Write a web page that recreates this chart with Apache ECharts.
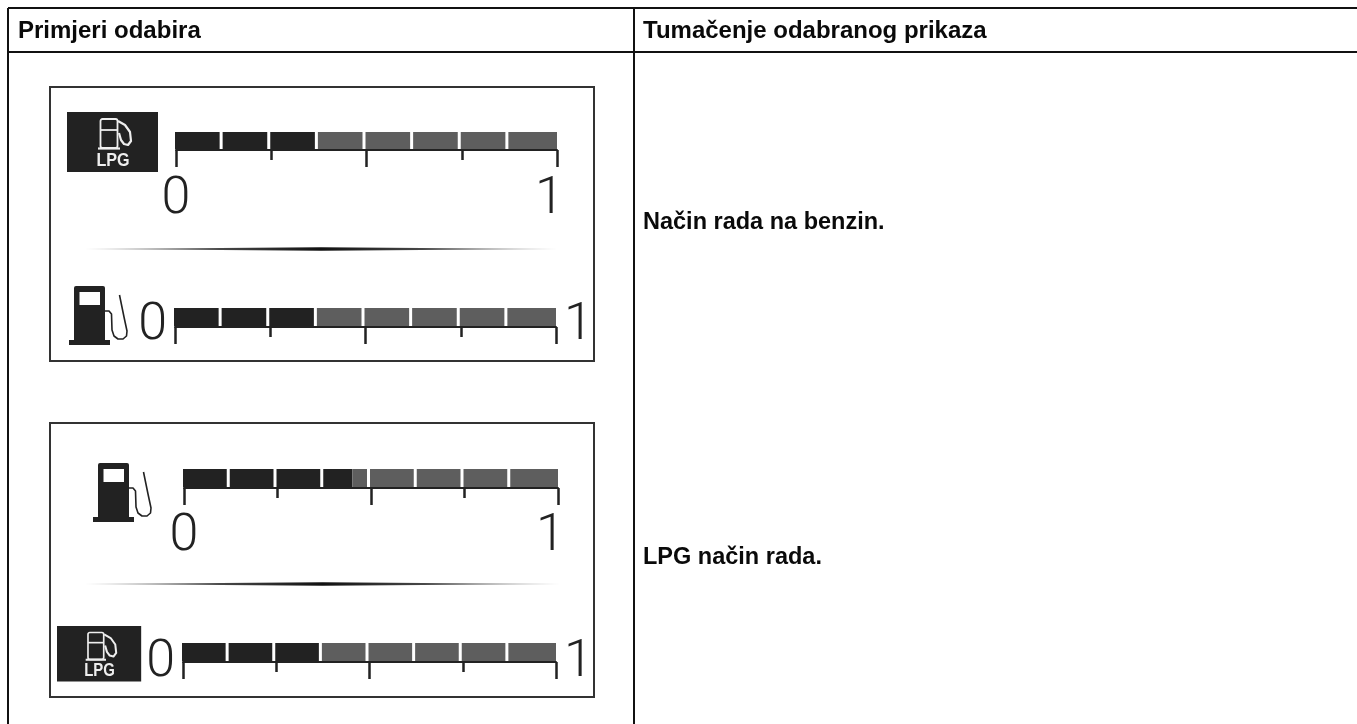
<!DOCTYPE html>
<html>
<head>
<meta charset="utf-8">
<style>html,body{margin:0;padding:0;background:#fff}#c{width:1357px;height:724px}</style>
<script src="https://cdn.jsdelivr.net/npm/echarts@6/dist/echarts.min.js"></script>
</head>
<body>
<div id="c"></div>
<script>
var headers = ['Primjeri odabira', 'Tumačenje odabranog prikaza'];
var rowTexts = ['Način rada na benzin.', 'LPG način rada.'];
var tickLabels = {0: '0', 1: '1'};
var cellStarts = [0, 0.125, 0.25, 0.375, 0.5, 0.625, 0.75, 0.875];
var cellEnds = [0.125, 0.25, 0.375, 0.5, 0.625, 0.75, 0.875, 1];
var levels = [0.375, 0.375, 0.45, 0.375];
var DARK = '#222222', GREY = '#5e5e5e', LINE = '#111111', FRAME = '#333333';

var layouts = [
  {left: 176, right: 557, top: 132, height: 18, below: true, margin: 24},
  {left: 175, right: 556, top: 308, height: 19, below: false, margin: -27.5},
  {left: 184, right: 558, top: 469, height: 19, below: true, margin: 22.5},
  {left: 183, right: 556, top: 643, height: 19, below: false, margin: -25}
];

var chart = echarts.init(document.getElementById('c'), null, {renderer: 'canvas'});
var grids = [], xAxes = [], yAxes = [], series = [];

layouts.forEach(function (l, i) {
  grids.push({left: l.left, top: l.top, width: l.right - l.left, height: l.height});
  xAxes.push({
    type: 'value', gridIndex: i, min: 0, max: 1, interval: 0.5,
    axisLine: {show: true, onZero: false, lineStyle: {color: DARK, width: 2}},
    axisTick: {show: true, length: 17, lineStyle: {color: DARK, width: 2.5}},
    minorTick: {show: true, splitNumber: 2, length: 10, lineStyle: {color: DARK, width: 2.5}},
    splitLine: {show: false},
    axisLabel: {
      show: true,
      fontFamily: 'Roboto',
      fontWeight: 300,
      fontSize: 52,
      color: '#222',
      hideOverlap: false,
      showMinLabel: true,
      showMaxLabel: true,
      margin: l.margin,
      alignMinLabel: l.below ? 'center' : 'right',
      alignMaxLabel: l.below ? 'center' : 'left',
      verticalAlign: 'top',
      padding: l.below ? 0 : [0, 8, 0, 8],
      rich: {one: {fontFamily: 'Roboto', fontWeight: 300, fontSize: 52, color: '#222', padding: [0, 15, 0, 0]}},
      formatter: function (v) {
        var t = tickLabels[v] || '';
        return (l.below && t === '1') ? '{one|' + t + '}' : t;
      }
    }
  });
  yAxes.push({type: 'value', gridIndex: i, min: 0, max: 1, show: false});
  var level = levels[i];
  series.push({
    type: 'custom',
    coordinateSystem: 'cartesian2d',
    xAxisIndex: i,
    yAxisIndex: i,
    clip: false,
    silent: true,
    data: cellStarts.map(function (s, k) { return [s, cellEnds[k], level]; }),
    encode: {x: [0, 1], y: -1},
    renderItem: function (params, api) {
      var a = api.value(0), b = api.value(1), lv = api.value(2);
      var p0 = api.coord([a, 1]), p1 = api.coord([b, 0]);
      var pm = api.coord([lv, 0]);
      var x0 = p0[0] - 1, x1 = b < 1 ? p1[0] - 4 : p1[0];
      var yT = p0[1], yB = p1[1] - 1;
      var kids = [];
      function rect(xa, xb, col) {
        kids.push({type: 'rect', shape: {x: xa, y: yT, width: xb - xa, height: yB - yT}, style: {fill: col}});
      }
      if (b <= lv + 1e-9) rect(x0, x1, DARK);
      else if (a >= lv) rect(x0, x1, GREY);
      else { rect(x0, pm[0], DARK); rect(pm[0], x1, GREY); }
      return {type: 'group', children: kids};
    }
  });
});

function pumpIcon(dx, dy) {
  return {
    type: 'group', x: dx, y: dy, silent: true,
    children: [
      {type: 'rect', shape: {x: 69, y: 340, width: 41, height: 5}, style: {fill: DARK}},
      {type: 'rect', shape: {x: 74, y: 286, width: 31, height: 55, r: [2, 2, 0, 0]}, style: {fill: DARK}},
      {type: 'rect', shape: {x: 79.5, y: 292, width: 20.5, height: 13}, style: {fill: '#fff'}},
      {type: 'polyline', shape: {points: [[105, 311], [109, 311], [111.5, 314], [112, 330], [114, 336], [118, 339], [123, 339], [126.5, 336], [127, 331], [124, 317], [119.5, 295]]},
        style: {fill: 'none', stroke: DARK, lineWidth: 1.6, lineJoin: 'round'}}
    ]
  };
}

function lpgIcon(x, y, s) {
  return {
    type: 'group', x: x, y: y, scaleX: s, scaleY: s, silent: true,
    children: [
      {type: 'rect', shape: {x: 0, y: 0, width: 91, height: 60}, style: {fill: DARK}},
      {type: 'rect', shape: {x: 33.5, y: 7, width: 17, height: 29, r: 2}, style: {fill: 'none', stroke: '#eee', lineWidth: 1.8}},
      {type: 'line', shape: {x1: 33.5, y1: 18, x2: 50.5, y2: 18}, style: {stroke: '#eee', lineWidth: 1.8}},
      {type: 'line', shape: {x1: 31, y1: 36.5, x2: 53, y2: 36.5}, style: {stroke: '#eee', lineWidth: 2.2}},
      {type: 'polyline', shape: {points: [[51, 9], [58, 13], [63, 20], [64, 29], [61, 33], [57, 32], [54, 28], [52, 21]]},
        style: {fill: 'none', stroke: '#eee', lineWidth: 2.2, lineJoin: 'round'}},
      {type: 'text', x: 46, y: 39.5, scaleX: 0.85, style: {text: 'LPG', fontFamily: 'Liberation Sans', fontWeight: 'bold', fontSize: 19, fill: '#eee', align: 'center', verticalAlign: 'top'}}
    ]
  };
}

function divider(x0, x1, y) {
  var xm = (x0 + x1) / 2;
  return {
    type: 'polygon', silent: true,
    shape: {points: [[x0, y], [xm, y - 1.7], [x1, y], [xm, y + 1.7]]},
    style: {fill: {type: 'linear', x: 0, y: 0, x2: 1, y2: 0, colorStops: [
      {offset: 0, color: '#aaa'}, {offset: 0.3, color: '#444'}, {offset: 0.5, color: '#111'}, {offset: 0.7, color: '#444'}, {offset: 1, color: '#aaa'}]}}
  };
}

function hline(x1, x2, y) { return {type: 'line', silent: true, shape: {x1: x1, y1: y, x2: x2, y2: y}, style: {stroke: LINE, lineWidth: 2}}; }
function vline(x, y1, y2) { return {type: 'line', silent: true, shape: {x1: x, y1: y1, x2: x, y2: y2}, style: {stroke: LINE, lineWidth: 2}}; }
function label(t, x, y, size) { return {type: 'text', silent: true, x: x, y: y, style: {text: t, fontFamily: 'Liberation Sans', fontWeight: 'bold', fontSize: size, fill: '#0a0a0a', verticalAlign: 'middle'}}; }

var graphics = [
  hline(8, 1357, 8), hline(8, 1357, 52), vline(8, 8, 724), vline(634, 8, 724),
  label(headers[0], 18, 31, 24), label(headers[1], 643, 31, 24),
  label(rowTexts[0], 643, 223, 23.5), label(rowTexts[1], 643, 558, 23.5),
  {type: 'rect', silent: true, shape: {x: 50, y: 87, width: 544, height: 274}, style: {fill: 'none', stroke: FRAME, lineWidth: 2}},
  {type: 'rect', silent: true, shape: {x: 50, y: 423, width: 544, height: 274}, style: {fill: 'none', stroke: FRAME, lineWidth: 2}},
  divider(85, 557, 249), divider(85, 560, 584),
  lpgIcon(67, 112, 1), lpgIcon(57, 626, 0.925),
  pumpIcon(0, 0), pumpIcon(24, 177)
];

chart.setOption({
  animation: false,
  backgroundColor: '#fff',
  grid: grids, xAxis: xAxes, yAxis: yAxes, series: series,
  graphic: {elements: graphics}
});
</script>
</body>
</html>
